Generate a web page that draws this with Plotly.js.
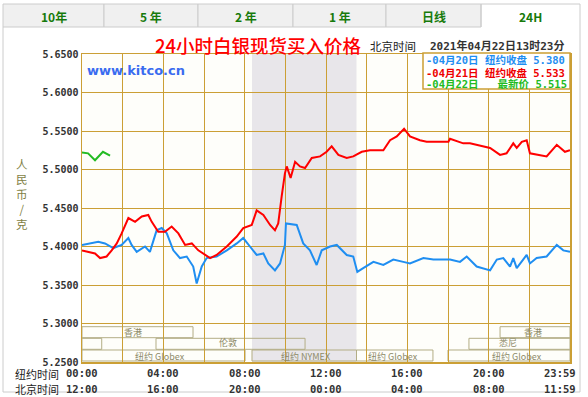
<!DOCTYPE html>
<html><head><meta charset="utf-8">
<script src="https://cdn.plot.ly/plotly-3.0.1.min.js"></script>
<style>html,body{margin:0;padding:0;background:#fff;}#chart{width:588px;height:397px;}</style>
</head><body><div id="chart"></div>
<script>
// ---- data ----
const tabLabels = ["10年", "5 年", "2 年", "1 年", "日线", "24H"];
const yTicks = [5.25, 5.30, 5.35, 5.40, 5.45, 5.50, 5.55, 5.60, 5.65];
const nyTickHours = [0, 4, 8, 12, 16, 20, 23.5];
const nyTickText = ["00:00", "04:00", "08:00", "12:00", "16:00", "20:00", "23:59"];
const bjTickText = ["12:00", "16:00", "20:00", "00:00", "04:00", "08:00", "11:59"];

const blueHours = [0,0.39,0.80,1.13,1.54,1.95,2.28,2.44,2.69,3.10,3.34,3.67,3.92,4.17,4.49,4.82,5.15,5.47,5.64,5.89,6.13,6.62,7.12,7.61,7.93,8.26,8.59,8.92,9.16,9.49,9.74,9.98,10.03,10.56,10.88,11.21,11.54,11.79,12.20,12.53,13.02,13.34,13.54,13.83,14.33,14.82,15.31,15.80,16.13,16.79,17.28,18.10,18.59,18.92,19.41,20.07,20.40,20.72,21.05,21.21,21.38,21.87,22.03,22.36,22.85,23.35,23.67,24.0];
const blueVals = [5.402,5.404,5.406,5.404,5.398,5.402,5.411,5.402,5.393,5.400,5.393,5.421,5.424,5.417,5.395,5.385,5.387,5.374,5.352,5.374,5.385,5.387,5.395,5.404,5.411,5.400,5.389,5.391,5.378,5.369,5.378,5.402,5.430,5.428,5.404,5.395,5.376,5.395,5.400,5.402,5.389,5.387,5.367,5.372,5.380,5.376,5.383,5.380,5.378,5.385,5.383,5.383,5.380,5.387,5.374,5.369,5.383,5.385,5.374,5.385,5.372,5.389,5.378,5.385,5.387,5.402,5.395,5.393];

const redHours = [0,0.39,0.64,0.89,1.21,1.46,1.71,1.95,2.28,2.61,2.94,3.26,3.43,3.75,4.08,4.41,4.74,5.07,5.40,5.72,6.05,6.30,6.62,7.12,7.61,7.93,8.35,8.59,8.92,9.25,9.49,9.65,9.82,9.98,10.07,10.26,10.48,10.72,10.97,11.30,11.71,12.03,12.28,12.61,13.02,13.34,13.76,14.16,14.82,15.15,15.48,15.84,16.13,16.62,16.95,18.02,18.10,18.75,19.08,19.74,20.07,20.56,20.88,21.21,21.38,21.63,21.87,22.03,22.53,22.85,23.35,23.75,24.0];
const redVals = [5.395,5.393,5.391,5.385,5.387,5.395,5.404,5.417,5.437,5.432,5.439,5.441,5.432,5.419,5.419,5.426,5.417,5.402,5.404,5.395,5.389,5.385,5.389,5.400,5.413,5.424,5.428,5.447,5.441,5.428,5.421,5.430,5.465,5.495,5.504,5.489,5.510,5.504,5.502,5.515,5.517,5.523,5.530,5.519,5.515,5.517,5.523,5.525,5.525,5.538,5.543,5.553,5.543,5.538,5.536,5.536,5.540,5.534,5.534,5.530,5.528,5.519,5.521,5.534,5.528,5.536,5.538,5.521,5.519,5.517,5.532,5.523,5.525];

const greenHours = [0, 0.3, 0.64, 1.03, 1.38];
const greenVals = [5.522, 5.521, 5.512, 5.523, 5.518];

const legendLines = ["-04月20日 纽约收盘 5.380", "-04月21日 纽约收盘 5.533", "-04月22日 \u00a0\u00a0最新价 5.515"];
const yTitle = "人<br>民<br>币<br>/<br>克";
const nymexWindow = [8.36, 13.5];
// market sessions: [start hour, end hour, row]
const sessStart = [0, 20.56, 0, 19.03, 3.64, 0, 8.36, 13.5, 18.0];
const sessEnd   = [5.46, 24, 0.97, 24, 10.97, 8.02, 13.5, 17.26, 24];
const sessRow   = [0, 0, 1, 1, 1, 2, 2, 2, 2];
const sessLabels = ["香港", "香港", "悉尼", "伦敦", "纽约 Globex", "纽约 NYMEX", "纽约 Globex", "纽约 Globex"];
const sessLabelHour = [2.5, 22.2, 20.95, 7.18, 3.84, 10.97, 15.3, 21.4];
const sessLabelRow = [0, 0, 1, 1, 2, 2, 2, 2];

// ---- layout helpers (pixel -> paper) ----
const L = 82, R = 570, T = 54, B = 362;
const px = x => (x - L) / (R - L);
const py = y => (B - y) / (B - T);
const grid = '#cb9f35';
const bandLine = '#b3ad85';
const bandText = '#8d8a68';
const mono = 'DejaVu Sans Mono, Noto Sans CJK SC, monospace';
const cjk = 'Noto Sans CJK SC, sans-serif';

const shapes = [];
const annotations = [];

// NYMEX shaded area
shapes.push({type:'rect', xref:'x', yref:'paper', x0:nymexWindow[0], x1:nymexWindow[1], y0:0, y1:1,
  fillcolor:'#e8e6ea', line:{width:0}, layer:'below'});

// tabs
const tabX = [3, 104, 198, 293, 386, 481, 580];
for (let i = 0; i < tabLabels.length; i++) {
  const active = i === tabLabels.length - 1;
  if (active) {
    shapes.push({type:'path', xref:'paper', yref:'paper',
      path:`M ${px(tabX[i])},${py(27)} L ${px(tabX[i])},${py(4)} L ${px(tabX[i+1])},${py(4)} L ${px(tabX[i+1])},${py(27)}`,
      line:{color:'#cccccc', width:1}});
  } else {
    shapes.push({type:'rect', xref:'paper', yref:'paper', x0:px(tabX[i]), x1:px(tabX[i+1]), y0:py(27), y1:py(4),
      fillcolor:'#f0f0f0', line:{color:'#cccccc', width:1}});
  }
  annotations.push({xref:'paper', yref:'paper', x:px((tabX[i]+tabX[i+1])/2), y:py(16), text:'<b>'+tabLabels[i]+'</b>',
    showarrow:false, font:{family:cjk, size:12, color:'#177a0b'}, xanchor:'center', yanchor:'middle'});
}
// outer frame
shapes.push({type:'path', xref:'paper', yref:'paper',
  path:`M ${px(3)},${py(27)} L ${px(3)},${py(392)} L ${px(580)},${py(392)} L ${px(580)},${py(27)}`,
  line:{color:'#cccccc', width:1}});

// market session boxes
const rowTop = [326.7, 338.3, 350];
const rowBot = [337.7, 349.3, 361];
const labelY = [332, 342.5, 356.8];
for (let i = 0; i < sessStart.length; i++) {
  const r = sessRow[i];
  shapes.push({type:'rect', xref:'x', yref:'paper', x0:sessStart[i], x1:sessEnd[i], y0:py(rowBot[r]), y1:py(rowTop[r]),
    line:{color:bandLine, width:1}, fillcolor:'rgba(0,0,0,0)', layer:'below'});
}
for (let i = 0; i < sessLabels.length; i++) {
  const r = sessLabelRow[i];
  annotations.push({xref:'x', yref:'paper', x:sessLabelHour[i], y:py(labelY[r]), text:sessLabels[i],
    showarrow:false, font:{family:cjk, size:9, color:bandText}, xanchor:'center', yanchor:'middle', borderpad:0});
}

// legend box
shapes.push({type:'rect', xref:'paper', yref:'paper', x0:px(423), x1:px(570), y0:py(89), y1:py(53),
  fillcolor:'#ffffff', line:{color:grid, width:1.5}});
const legColors = ['#1f8ef1', '#ee0000', '#22bb22'];
const legY = [60, 72.5, 84];
for (let i = 0; i < 3; i++) {
  annotations.push({xref:'paper', yref:'paper', x:px(424), y:py(legY[i]), text:'<b>'+legendLines[i]+'</b>',
    showarrow:false, font:{family:mono, size:10.5, color:legColors[i]}, xanchor:'left', yanchor:'middle'});
}

// title and time
annotations.push({xref:'paper', yref:'paper', x:px(258), y:py(45), text:'24小时白银现货买入价格', showarrow:false,
  font:{family:cjk, size:18.5, color:'#ff0000', weight:500}, xanchor:'center', yanchor:'middle'});
annotations.push({xref:'paper', yref:'paper', x:px(368), y:py(46), text:'北京时间', showarrow:false,
  font:{family:cjk, size:11.5, color:'#222'}, xanchor:'left', yanchor:'middle'});
annotations.push({xref:'paper', yref:'paper', x:px(428), y:py(46), text:'<b>2021年04月22日13时23分</b>', showarrow:false,
  font:{family:mono, size:11, color:'#333'}, xanchor:'left', yanchor:'middle'});
// kitco
annotations.push({xref:'paper', yref:'paper', x:px(85), y:py(70), text:'<b>www.kitco.cn</b>', showarrow:false,
  font:{family:'DejaVu Sans, sans-serif', size:13, color:'#3a6cf0'}, xanchor:'left', yanchor:'middle'});
// y title (stacked characters)
annotations.push({xref:'paper', yref:'paper', x:px(22), y:py(194), text:yTitle, showarrow:false,
  font:{family:cjk, size:11.5, color:'#7f7f45'}, xanchor:'center', yanchor:'middle', align:'center'});
// time row labels
annotations.push({xref:'paper', yref:'paper', x:px(14), y:py(374), text:'纽约时间', showarrow:false,
  font:{family:cjk, size:11, color:'#222'}, xanchor:'left', yanchor:'middle', borderpad:0});
annotations.push({xref:'paper', yref:'paper', x:px(14), y:py(389), text:'北京时间', showarrow:false,
  font:{family:cjk, size:11, color:'#222'}, xanchor:'left', yanchor:'middle', borderpad:0});
for (let i = 0; i < nyTickHours.length; i++) {
  annotations.push({xref:'x', yref:'paper', x:nyTickHours[i], y:py(373), text:'<b>'+nyTickText[i]+'</b>', showarrow:false,
    font:{family:mono, size:10.5, color:'#333'}, xanchor:'center', yanchor:'middle'});
  annotations.push({xref:'x', yref:'paper', x:nyTickHours[i], y:py(389), text:'<b>'+bjTickText[i]+'</b>', showarrow:false,
    font:{family:mono, size:10.5, color:'#333'}, xanchor:'center', yanchor:'middle'});
}

const traces = [
  {x:blueHours, y:blueVals, mode:'lines', line:{color:'#1f8ef1', width:2}, hoverinfo:'skip'},
  {x:redHours, y:redVals, mode:'lines', line:{color:'#ff0000', width:2}, hoverinfo:'skip'},
  {x:greenHours, y:greenVals, mode:'lines', line:{color:'#22bb22', width:2}, hoverinfo:'skip'}
];

const layout = {
  width:588, height:397,
  margin:{l:L, r:588-R, t:T, b:397-B},
  paper_bgcolor:'#ffffff', plot_bgcolor:'#fefefa',
  showlegend:false,
  xaxis:{range:[0,24], tickmode:'linear', tick0:0, dtick:2, showticklabels:false, ticks:'',
    showgrid:true, gridcolor:grid, gridwidth:1, zeroline:false,
    showline:true, mirror:true, linecolor:grid, linewidth:1.5, fixedrange:true},
  yaxis:{range:[5.25,5.65], tickmode:'array', tickvals:yTicks, tickformat:'.4f', ticks:'',
    showgrid:true, gridcolor:grid, gridwidth:1, zeroline:false,
    showline:true, mirror:true, linecolor:grid, linewidth:1.5,
    tickfont:{family:mono, size:10, color:'#333', weight:'bold'}, fixedrange:true},
  shapes:shapes, annotations:annotations
};
Plotly.newPlot('chart', traces, layout, {staticPlot:true, displayModeBar:false});
</script></body></html>
